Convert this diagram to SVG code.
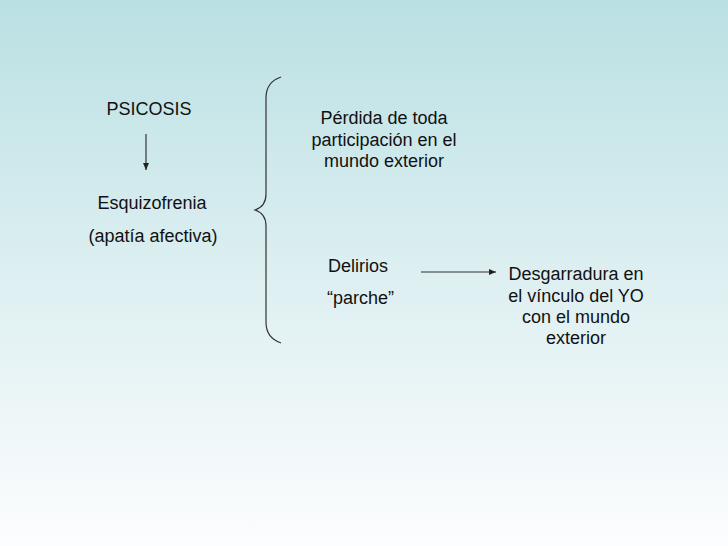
<svg xmlns="http://www.w3.org/2000/svg" width="728" height="546" viewBox="0 0 728 546">
  <defs>
    <linearGradient id="bg" x1="0" y1="0" x2="0" y2="1">
      <stop offset="0" stop-color="#BAE0E3"/>
      <stop offset="0.5" stop-color="#DDEFF1"/>
      <stop offset="1" stop-color="#FCFDFE"/>
    </linearGradient>
    <marker id="ah" markerWidth="8" markerHeight="8" refX="7" refY="4" orient="auto" markerUnits="userSpaceOnUse">
      <path d="M0,1 L7,4 L0,7 Z" fill="#222"/>
    </marker>
    <style>
      text { font-family: "Liberation Sans", Arial, sans-serif; font-size: 18px; fill: #111; }
      .c { text-anchor: middle; }
      .ln { stroke: #333; stroke-width: 1.2; fill: none; }
    </style>
  </defs>
  <rect x="0" y="0" width="728" height="546" fill="url(#bg)"/>

  <g id="psicosis"><text class="c" x="149" y="115">PSICOSIS</text></g>
  <g id="esquizofrenia">
    <text class="c" x="152" y="209">Esquizofrenia</text>
    <text class="c" x="153" y="242">(apatía afectiva)</text>
  </g>
  <g id="perdida">
    <text class="c" x="384" y="124">Pérdida de toda</text>
    <text class="c" x="384" y="146">participación en el</text>
    <text class="c" x="384" y="167">mundo exterior</text>
  </g>
  <g id="delirios">
    <text x="328" y="272">Delirios</text>
    <text x="327" y="304">“parche”</text>
  </g>
  <g id="desgarradura">
    <text class="c" x="576" y="280">Desgarradura en</text>
    <text class="c" x="576" y="302">el vínculo del YO</text>
    <text class="c" x="576" y="323">con el mundo</text>
    <text class="c" x="576" y="344">exterior</text>
  </g>

  <g id="connectors">
    <line class="ln" x1="146" y1="134" x2="146" y2="170" marker-end="url(#ah)"/>
    <line class="ln" x1="421" y1="272" x2="496" y2="272" marker-end="url(#ah)"/>
    <path class="ln" d="M281,77 C272,80 266,86 266,98 L266,194 C266,204 261,208 255,210 C261,212 266,216 266,226 L266,322 C266,334 272,340 281,343"/>
  </g>
</svg>
